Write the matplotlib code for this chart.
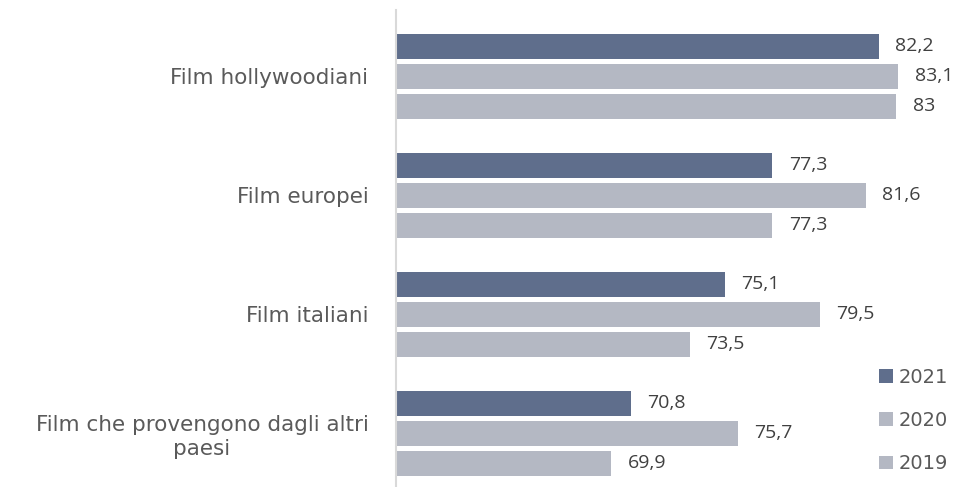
import matplotlib.pyplot as plt
import numpy as np

categories = ['Film hollywoodiani', 'Film europei', 'Film italiani',
              'Film che provengono dagli altri\npaesi']
years = ['2021', '2020', '2019']
v2021 = [82.2, 77.3, 75.1, 70.8]
v2020 = [83.1, 81.6, 79.5, 75.7]
v2019 = [83.0, 77.3, 73.5, 69.9]

colors = ['#5f6e8c', '#b4b8c3', '#b4b8c3']


def fmt(v):
    s = ('%.1f' % v).replace('.', ',')
    return s[:-2] if s.endswith(',0') else s


fig = plt.figure(figsize=(9.57, 4.87), dpi=100)
ax = fig.add_axes([0.414, 0.0, 0.568, 477 / 487])

y = np.arange(len(categories))
pitch = 0.252
height = 0.21
for i, (vals, col, lab) in enumerate(zip([v2021, v2020, v2019], colors, years)):
    pos = y + (i - 1) * pitch
    bars = ax.barh(pos, vals, height=height, color=col, label=lab, left=0)
    for b, v in zip(bars, vals):
        ax.text(v + 0.75, b.get_y() + b.get_height() / 2, fmt(v),
                va='center', ha='left', fontsize=14, color='#404040',
                family='Open Sans')

ax.set_xlim(60, 85.0)
ax.set_ylim(3.45, -0.555)
ax.set_yticks(y)
ax.set_yticklabels(categories, fontsize=15.5, color='#5a5a5a',
                   family='DejaVu Sans', multialignment='center')
ax.tick_params(axis='y', length=0, pad=20)
ax.set_xticks([])
for s in ['top', 'right', 'bottom']:
    ax.spines[s].set_visible(False)
ax.spines['left'].set_color('#d9d9d9')
ax.spines['left'].set_linewidth(1.5)

leg = fig.legend(loc='lower right', bbox_to_anchor=(1.005, 0.0),
                 frameon=False, fontsize=14, labelcolor='#595959',
                 handlelength=0.7, handleheight=0.7, handletextpad=0.3,
                 labelspacing=1.25, borderaxespad=0.3)

fig.savefig('out.png', dpi=100)
